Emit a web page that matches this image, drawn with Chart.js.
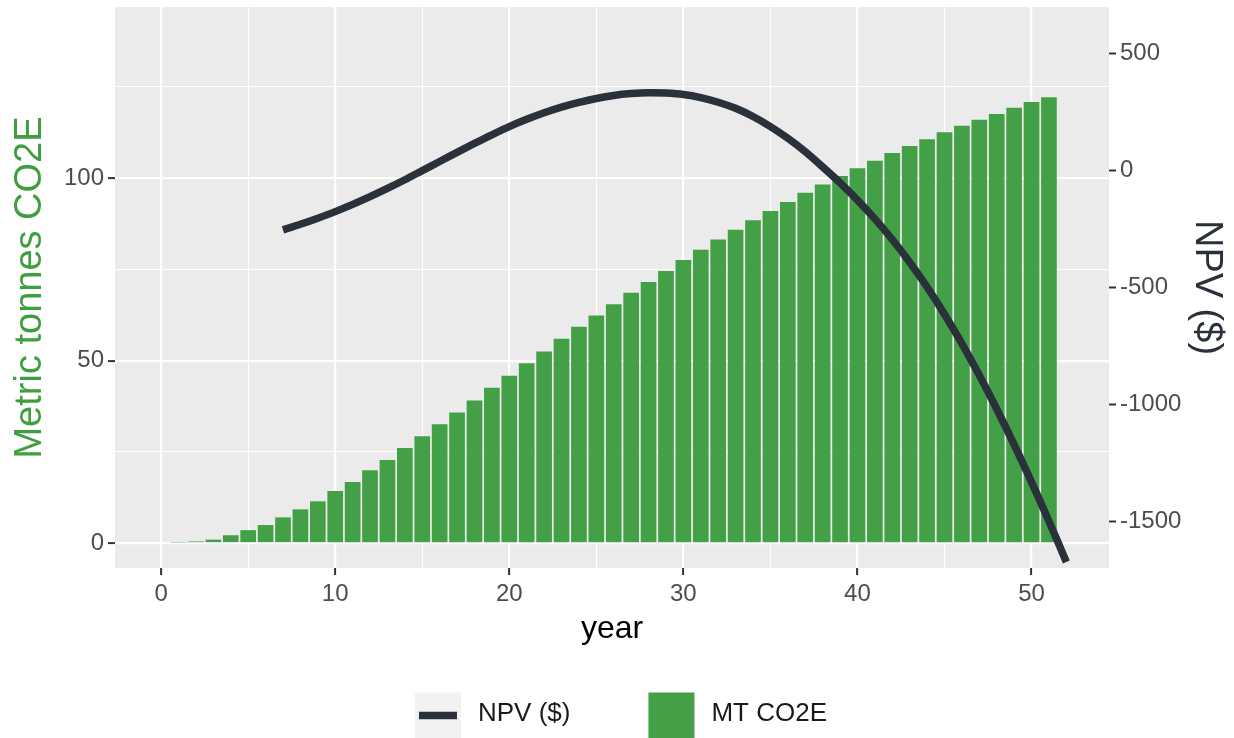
<!DOCTYPE html>
<html>
<head>
<meta charset="utf-8">
<title>NPV and MT CO2E by year</title>
<script src="https://cdn.jsdelivr.net/npm/chart.js@4.4.1/dist/chart.umd.min.js"></script>
<style>
    html, body { margin: 0; padding: 0; background: #ffffff; }
    #wrap { width: 1234px; height: 738px; }
</style>
</head>
<body>
<div id="wrap"><canvas id="co2Chart" width="1234" height="738"></canvas></div>
<script>
/*
  Values.
*/
const barYears = [
    1, 2, 3, 4, 5, 6, 7, 8, 9, 10,
    11, 12, 13, 14, 15, 16, 17, 18, 19, 20,
    21, 22, 23, 24, 25, 26, 27, 28, 29, 30,
    31, 32, 33, 34, 35, 36, 37, 38, 39, 40,
    41, 42, 43, 44, 45, 46, 47, 48, 49, 50, 51
];

const co2Tonnes = [
    0.2, 0.5, 1.0, 2.2, 3.6, 5.0, 7.1, 9.3, 11.5, 14.3,
    16.8, 20.0, 22.8, 26.1, 29.3, 32.6, 35.8, 39.1, 42.6, 45.9,
    49.3, 52.5, 56.0, 59.3, 62.4, 65.5, 68.6, 71.6, 74.6, 77.6,
    80.4, 83.2, 85.9, 88.5, 91.0, 93.5, 96.0, 98.3, 100.6, 102.7,
    104.8, 106.9, 108.8, 110.7, 112.6, 114.4, 116.0, 117.6, 119.3, 120.9, 122.2
];

const npvYears = [
    7, 8, 9, 10, 11, 12, 13, 14, 15, 16,
    17, 18, 19, 20, 21, 22, 23, 24, 25, 26,
    27, 28, 29, 30, 31, 32, 33, 34, 35, 36,
    37, 38, 39, 40, 41, 42, 43, 44, 45, 46,
    47, 48, 49, 50, 51, 52
];

const npvDollars = [
    -254, -230, -204, -176, -145, -112, -77, -40, -1, 38,
    77, 115, 152, 187, 218, 246, 270, 290, 307, 320,
    328, 332, 330, 324, 311, 291, 265, 230, 187, 137,
    80, 15, -53, -127, -207, -295, -392, -498, -614, -740,
    -875, -1019, -1171, -1331, -1498, -1672
];

const yearTicks = [0, 5, 10, 15, 20, 25, 30, 35, 40, 45, 50];
const co2Ticks = [0, 25, 50, 75, 100, 125];
const npvTicks = [-1500, -1000, -500, 0, 500];

const GREEN = "#43A047";
const LINE_COLOR = "#2B313B";
const PANEL = "#EBEBEB";
const TICK_TEXT = "#4D4D4D";
const TICK_MARK = "#333333";
const FONT = "'Liberation Sans', Arial, Helvetica, sans-serif";

document.addEventListener("DOMContentLoaded", () => {

    initializeCo2Chart();

});

function isMajor(value, step) {

    return Math.abs(value % step) < 1e-9;

}

// keep the panel where ggplot put it: no extra room for half tick labels
function fixWidth(width) {

    return (axis) => {
        axis.width = width;
        axis.paddingTop = 0;
        axis.paddingBottom = 0;
    };

}

function initializeCo2Chart() {

    const canvas = document.getElementById("co2Chart");

    if (!canvas) {
        return;
    }

    // grey panel like ggplot's theme_gray
    const panelBackground = {
        id: "panelBackground",
        beforeDraw(chart) {
            const {ctx, chartArea} = chart;
            ctx.save();
            ctx.fillStyle = PANEL;
            ctx.fillRect(chartArea.left, chartArea.top,
                chartArea.right - chartArea.left, chartArea.bottom - chartArea.top);
            ctx.restore();
        }
    };

    // legend under the plot: line key on a light box, then the bar key
    const bottomLegend = {
        id: "bottomLegend",
        afterDraw(chart) {
            const ctx = chart.ctx;
            const sets = chart.data.datasets;
            const key = 46;
            const gap = 17;
            const spacing = 78;

            ctx.save();
            ctx.font = "26px " + FONT;

            const widths = sets.map(ds => key + gap + ctx.measureText(ds.label).width);
            const total = widths.reduce((a, b) => a + b, 0) + spacing * (sets.length - 1);

            let x = chart.width / 2 - total / 2 + 4;
            const top = chart.height - 45.5;
            const mid = top + key / 2;

            sets.forEach((ds, i) => {
                if (ds.type === "line") {
                    ctx.fillStyle = "#F2F2F2";
                    ctx.fillRect(x, top, key, key);
                    ctx.strokeStyle = ds.borderColor;
                    ctx.lineWidth = 7.5;
                    ctx.beginPath();
                    ctx.moveTo(x + 4, mid);
                    ctx.lineTo(x + key - 4, mid);
                    ctx.stroke();
                } else {
                    ctx.fillStyle = ds.backgroundColor;
                    ctx.fillRect(x, top, key, key);
                }
                ctx.fillStyle = "#1A1A1A";
                ctx.textAlign = "left";
                ctx.textBaseline = "middle";
                ctx.fillText(ds.label, x + key + gap, mid - 2);
                x += widths[i] + spacing;
            });

            ctx.restore();
        }
    };

    new Chart(canvas, {

        type: "bar",

        data: {

            datasets: [

                {
                    type: "line",
                    label: "NPV ($)",
                    data: npvYears.map((year, i) => ({x: year, y: npvDollars[i]})),
                    yAxisID: "npv",
                    borderColor: LINE_COLOR,
                    borderWidth: 7.5,
                    borderCapStyle: "butt",
                    pointRadius: 0,
                    fill: false,
                    tension: 0.3,
                    order: 0
                },

                {
                    type: "bar",
                    label: "MT CO2E",
                    data: barYears.map((year, i) => ({x: year, y: co2Tonnes[i]})),
                    yAxisID: "co2",
                    backgroundColor: GREEN,
                    borderWidth: 0,
                    barPercentage: 0.9,
                    categoryPercentage: 1.0,
                    order: 1
                }

            ]

        },

        options: {

            responsive: false,
            devicePixelRatio: 1,
            animation: false,

            layout: {
                padding: {top: 7, bottom: 70, left: 0, right: 0}
            },

            plugins: {
                legend: {display: false},
                tooltip: {enabled: false}
            },

            scales: {

                x: {
                    type: "linear",
                    min: -2.65,
                    max: 54.45,
                    offset: false,
                    afterBuildTicks: (axis) => {
                        axis.ticks = yearTicks.map(v => ({value: v}));
                    },
                    afterFit: (axis) => {
                        axis.height = 100;
                        axis.paddingLeft = 0;
                        axis.paddingRight = 0;
                    },
                    border: {display: false},
                    grid: {
                        offset: false,
                        color: "#FFFFFF",
                        lineWidth: (c) => isMajor(c.tick.value, 10) ? 2.2 : 1.1,
                        drawTicks: true,
                        tickLength: 7,
                        tickWidth: 2,
                        tickColor: (c) => isMajor(c.tick.value, 10) ? TICK_MARK : "rgba(0,0,0,0)"
                    },
                    ticks: {
                        autoSkip: false,
                        maxRotation: 0,
                        padding: 5,
                        color: TICK_TEXT,
                        font: {family: FONT, size: 24},
                        callback: (v) => isMajor(v, 10) ? String(v) : ""
                    },
                    title: {
                        display: true,
                        text: "year",
                        color: "#000000",
                        font: {family: FONT, size: 32},
                        padding: {top: 0, bottom: 20}
                    }
                },

                co2: {
                    type: "linear",
                    position: "left",
                    min: -6.77,
                    max: 146.9,
                    afterBuildTicks: (axis) => {
                        axis.ticks = co2Ticks.map(v => ({value: v}));
                    },
                    afterFit: fixWidth(115),
                    border: {display: false},
                    grid: {
                        color: "#FFFFFF",
                        lineWidth: (c) => isMajor(c.tick.value, 50) ? 2.2 : 1.1,
                        drawTicks: true,
                        tickLength: 7,
                        tickWidth: 2,
                        tickColor: (c) => isMajor(c.tick.value, 50) ? TICK_MARK : "rgba(0,0,0,0)"
                    },
                    ticks: {
                        autoSkip: false,
                        padding: 4,
                        color: TICK_TEXT,
                        font: {family: FONT, size: 24},
                        callback: (v) => isMajor(v, 50) ? String(v) : ""
                    },
                    title: {
                        display: true,
                        text: "Metric tonnes CO2E",
                        color: "#3F9F3F",
                        font: {family: FONT, size: 38},
                        padding: {top: 8, bottom: 0}
                    }
                },

                npv: {
                    type: "linear",
                    position: "right",
                    min: -1697.7,
                    max: 697.7,
                    afterBuildTicks: (axis) => {
                        axis.ticks = npvTicks.map(v => ({value: v}));
                    },
                    afterFit: fixWidth(125),
                    border: {display: false},
                    grid: {
                        drawOnChartArea: false,
                        drawTicks: true,
                        tickLength: 7,
                        tickWidth: 2,
                        tickColor: TICK_MARK
                    },
                    ticks: {
                        autoSkip: false,
                        padding: 4,
                        color: TICK_TEXT,
                        font: {family: FONT, size: 24},
                        callback: (v) => String(v)
                    },
                    title: {
                        display: true,
                        text: "NPV ($)",
                        color: LINE_COLOR,
                        font: {family: FONT, size: 38},
                        padding: {top: 5, bottom: 0}
                    }
                }

            }

        },

        plugins: [panelBackground, bottomLegend]

    });

}
</script>
</body>
</html>
